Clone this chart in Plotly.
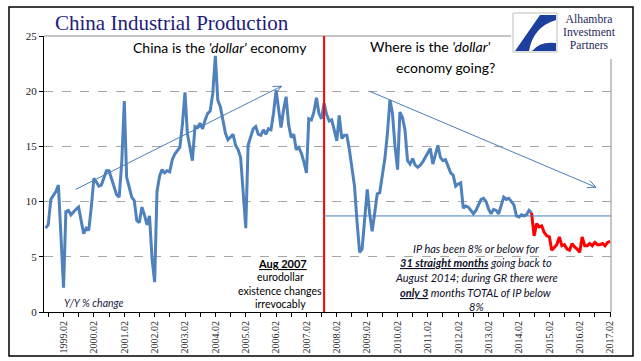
import math
import pandas as pd
import plotly.graph_objects as go

# ---------------- data ----------------
first_month = "1998-07-01"
ip_yoy = [
    7.6, 7.9, 10.2, 10.5, 10.9, 11.5, 6.8, 2.2, 9.1, 9.2, 8.8, 9.1,        # Jul98-Jun99
    9.3, 9.5, 8.1, 7.1, 7.6, 7.4, 9.5, 12.1, 11.8, 11.4, 11.5, 12.2,       # Jul99-Jun00
    12.8, 12.8, 12.0, 11.4, 10.6, 10.4, 13.5, 19.1, 12.2, 11.3, 10.4, 10.1,  # Jul00-Jun01
    8.3, 8.1, 9.5, 8.8, 7.9, 8.7, 4.8, 2.7, 10.9, 12.3, 12.9, 12.6,        # Jul01-Jun02
    12.8, 12.7, 13.8, 14.3, 14.6, 14.9, 17.0, 19.9, 16.2, 14.9, 13.7, 16.8,  # Jul02-Jun03
    16.7, 17.1, 16.6, 17.4, 18.0, 18.2, 19.8, 23.2, 19.2, 18.6, 17.3, 16.2,  # Jul03-Jun04
    15.6, 15.9, 16.1, 15.1, 14.7, 14.0, 11.0, 7.6, 15.1, 16.0, 16.6, 16.8,   # Jul04-Jun05
    16.1, 16.0, 16.5, 16.1, 16.6, 16.5, 18.0, 20.1, 18.2, 16.7, 18.3, 19.5,  # Jul05-Jun06
    17.0, 15.8, 16.1, 14.7, 14.9, 14.4, 13.6, 12.6, 17.5, 17.4, 18.1, 19.4,  # Jul06-Jun07
    18.0, 17.5, 18.9, 17.9, 17.3, 17.4, 16.5, 15.5, 17.8, 15.7, 16.0, 16.0,  # Jul07-Jun08
    14.7, 12.8, 11.4, 8.2, 5.4, 5.7, 8.5, 11.1, 9.0, 7.3, 8.9, 10.7,        # Jul08-Jun09
    10.8, 12.3, 13.9, 16.1, 19.2, 18.0, 15.0, 12.9, 18.1, 17.6, 16.5, 13.7,  # Jul09-Jun10
    13.4, 13.9, 13.3, 13.1, 13.3, 13.6, 14.0, 14.4, 14.8, 13.4, 14.2, 15.1,  # Jul10-Jun11
    14.0, 13.7, 13.8, 13.2, 12.6, 12.4, 11.4, 11.6, 11.7, 9.4, 9.6, 9.5,     # Jul11-Jun12
    9.2, 8.9, 9.2, 9.7, 10.2, 10.3, 10.0, 9.3, 8.9, 9.3, 9.2, 8.9,          # Jul12-Jun13
    9.7, 10.4, 10.2, 10.3, 10.0, 9.7, 8.7, 8.6, 8.8, 8.7, 8.8, 9.2,         # Jul13-Jun14
    9.0, 6.9, 8.0, 7.7, 7.8, 7.2, 6.9, 6.8, 5.6, 5.9, 6.1, 6.8,             # Jul14-Jun15
    6.0, 6.1, 5.7, 5.6, 6.2, 5.9, 5.7, 5.4, 6.8, 6.0, 6.0, 6.2,             # Jul15-Jun16
    6.0, 6.3, 6.1, 6.1, 6.2, 6.0, 6.3, 6.4,                                 # Jul16-Feb17
]
months = pd.date_range(first_month, periods=len(ip_yoy), freq="MS")
red_from = "2014-07-01"          # start of the red (<= 8%) stretch
regime_change = "2007-09-01"     # red vertical line (Aug 2007)
gr_level = 8.7                   # horizontal reference line

tick_labels = ["1999.02", "2000.02", "2001.02", "2002.02", "2003.02", "2004.02",
               "2005.02", "2006.02", "2007.02", "2008.02", "2009.02", "2010.02",
               "2011.02", "2012.02", "2013.02", "2014.02", "2015.02", "2016.02",
               "2017.02"]
y_ticks = [0, 5, 10, 15, 20, 25]

# arrows (start date, start value, end date, end value)
arrow_up = ("1999-06-26", 11.1, "2006-04-07", 20.45)
arrow_down = ("2009-02-27", 20.0, "2016-08-13", 11.3)

# ---------------- geometry ----------------
W, H = 641, 361
L, R, T, B = 44, 611, 36, 312
x_start, x_end = pd.Timestamp("1998-06-11"), pd.Timestamp("2017-02-11")
y_max = 25

def px(xp):
    return (xp - L) / (R - L)

def py(yp):
    return (B - yp) / (B - T)

def d2px(d):
    return L + (pd.Timestamp(d) - x_start) / (x_end - x_start) * (R - L)

def v2px(v):
    return B - v / y_max * (B - T)

BLUE = "#4A7EBB"
LINE_BLUE = "#4F81BD"

fig = go.Figure()

k = list(months).index(pd.Timestamp(red_from))
fig.add_trace(go.Scatter(x=months[:k + 1], y=ip_yoy[:k + 1], mode="lines",
                         line=dict(color=LINE_BLUE, width=3), hoverinfo="skip"))
fig.add_trace(go.Scatter(x=months[k:], y=ip_yoy[k:], mode="lines",
                         line=dict(color="#FF0000", width=3), hoverinfo="skip"))

shapes = []
shapes.append(dict(type="line", xref="paper", yref="paper", x0=0, x1=px(511), y0=1, y1=1,
                   line=dict(color="#8C8C8C", width=1)))
shapes.append(dict(type="line", xref="paper", yref="paper", x0=1, x1=1, y0=0, y1=py(59),
                   line=dict(color="#8C8C8C", width=1)))
shapes.append(dict(type="line", xref="x", yref="y", x0=regime_change, x1=regime_change,
                   y0=0, y1=y_max, line=dict(color="#FF0000", width=2)))
shapes.append(dict(type="line", xref="x", yref="paper", x0=regime_change, x1=x_end,
                   y0=py(v2px(gr_level)), y1=py(v2px(gr_level)),
                   line=dict(color=BLUE, width=1)))

def add_arrow(a, head=9, ang=25):
    x0p, y0p = d2px(a[0]), v2px(a[1])
    x1p, y1p = d2px(a[2]), v2px(a[3])
    shapes.append(dict(type="line", xref="paper", yref="paper",
                       x0=px(x0p), y0=py(y0p), x1=px(x1p), y1=py(y1p),
                       line=dict(color=BLUE, width=1)))
    dx, dy = x0p - x1p, y0p - y1p
    n = math.hypot(dx, dy)
    ux, uy = dx / n, dy / n
    for s in (1, -1):
        t = math.radians(ang * s)
        bx = ux * math.cos(t) - uy * math.sin(t)
        by = ux * math.sin(t) + uy * math.cos(t)
        shapes.append(dict(type="line", xref="paper", yref="paper",
                           x0=px(x1p), y0=py(y1p),
                           x1=px(x1p + head * bx), y1=py(y1p + head * by),
                           line=dict(color=BLUE, width=1)))

add_arrow(arrow_up)
add_arrow(arrow_down)

# logo area
shapes.append(dict(type="rect", xref="paper", yref="paper", layer="above",
                   x0=px(511), x1=px(632), y0=py(58), y1=py(9),
                   fillcolor="white", line=dict(width=0)))
shapes.append(dict(type="rect", xref="paper", yref="paper", layer="above",
                   x0=px(513), x1=px(557), y0=py(52), y1=py(13),
                   fillcolor="white", line=dict(color="#BFBFBF", width=1)))

def path_from(cmds):
    s = ""
    for cmd, pts in cmds:
        s += cmd + " " + " ".join(f"{px(a):.5f},{py(b):.5f}" for a, b in pts) + " "
    return s + "Z"

logo1 = [("M", [(540, 15)]), ("L", [(556, 15)]), ("L", [(556, 20)]),
         ("Q", [(533, 27), (529, 51)]), ("L", [(515, 51)])]
logo2 = [("M", [(532, 51)]), ("Q", [(540, 41), (556, 43)]), ("L", [(556, 51)])]
for lp in (logo1, logo2):
    shapes.append(dict(type="path", xref="paper", yref="paper", layer="above",
                       path=path_from(lp), fillcolor="#1D3F9E",
                       line=dict(width=0)))

# outer frame
shapes.append(dict(type="rect", xref="paper", yref="paper", layer="above",
                   x0=px(9), x1=px(633), y0=py(356), y1=py(7),
                   line=dict(color="black", width=1.5)))

ann = []
def text(xp, yp, s, size, family="Lato", color="#111111", xanchor="center", yanchor="middle"):
    ann.append(dict(xref="paper", yref="paper", x=px(xp), y=py(yp), text=s,
                    showarrow=False, xanchor=xanchor, yanchor=yanchor,
                    font=dict(family=family, size=size, color=color)))

text(53, 23, "China Industrial Production", 21, family="Liberation Serif",
     color="#1C1C7C", xanchor="left")
text(220, 48, "China is the <i>'dollar'</i> economy", 14, color="black")
text(430, 47, "Where is the <i>'dollar'</i>", 14, color="black")
text(445, 67, "economy going?", 14, color="black")

text(282, 263, "<b><u>Aug 2007</u></b>", 11, color="black")
text(280, 277, "eurodollar", 10.5, color="black")
text(280, 290.5, "existence changes", 10.5, color="black")
text(280, 304, "irrevocably", 10.5, color="black")

IPC = "#10102a"
text(476, 248.3, "<i>IP has been 8% or below for</i>", 11, color=IPC)
text(476, 262.7, "<i><b><u>31 straight months</u></b> going back to</i>", 11, color=IPC)
text(476, 277.3, "<i>August 2014; during GR there were</i>", 11, color=IPC)
text(476, 292.3, "<i><b><u>only 3</u></b> months TOTAL of IP below</i>", 11, color=IPC)
text(476, 306, "<i>8%</i>", 11, color=IPC)

text(62, 303, "<i>Y/Y % change</i>", 10.5, color="#1a1a40", xanchor="left")

# logo words: tight line spacing via small base size + larger spans
logo_words = ["Alhambra", "Investment", "Partners"]
logo_txt = "<br>".join(f"<span style='font-size:11.7px'>{w}</span>" for w in logo_words)
text(561, 33, logo_txt, 10, family="Liberation Serif", color="#1F2A5C", xanchor="left")

# x ticks: labels each Feb, unlabeled tick each Aug
tick_vals, tick_text = [], []
for lab in tick_labels:
    yr = int(lab[:4])
    tick_vals += [pd.Timestamp(f"{yr - 1}-08-01"), pd.Timestamp(f"{yr}-02-01")]
    tick_text += ["", lab]

fig.update_layout(
    width=W, height=H,
    margin=dict(l=L, r=W - R, t=T, b=H - B, autoexpand=False),
    paper_bgcolor="white", plot_bgcolor="white",
    showlegend=False,
    shapes=shapes, annotations=ann,
    xaxis=dict(type="date", range=[x_start, x_end], tickmode="array",
               tickvals=tick_vals, ticktext=tick_text, tickangle=-90,
               ticks="outside", ticklen=4, tickcolor="black", tickwidth=1,
               showline=True, linecolor="black", linewidth=1, showgrid=False,
               zeroline=False,
               tickfont=dict(family="Liberation Serif", size=10, color="#222222")),
    yaxis=dict(range=[0, y_max], tickmode="array", tickvals=y_ticks,
               ticks="outside", ticklen=4, tickcolor="black", tickwidth=1,
               showline=True, linecolor="black", linewidth=1,
               showgrid=True, gridcolor="#A6A6A6", griddash="dash", gridwidth=1,
               zeroline=False,
               tickfont=dict(family="Liberation Serif", size=11, color="#222222")),
)

fig.write_html("out.html", config={"displayModeBar": False},
               post_script="document.body.style.margin='0';document.body.style.overflow='hidden';")
